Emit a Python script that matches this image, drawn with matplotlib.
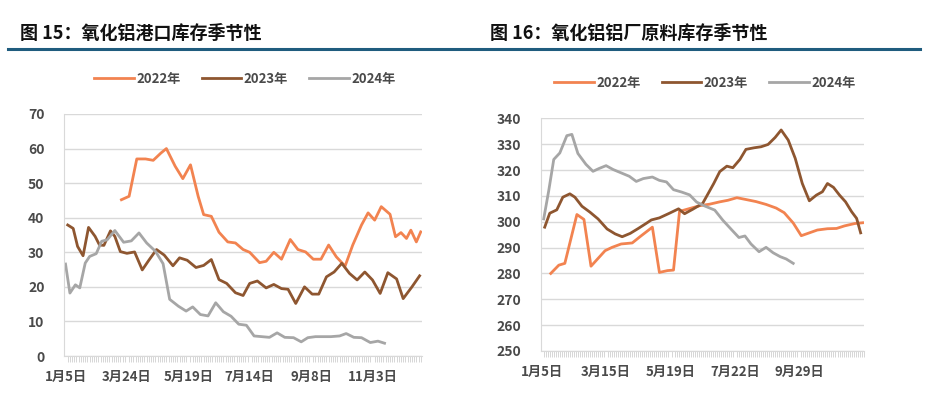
import numpy as np
import matplotlib
matplotlib.use('Agg')
import matplotlib.pyplot as plt
from matplotlib.lines import Line2D

plt.rcParams['font.family'] = ['Noto Sans CJK SC', 'DejaVu Sans']

# %% data -- left: 氧化铝港口库存 (万吨), right: 铝厂原料库存 (万吨)
# x = position along the category axis (label every 56 / 64 steps)
port_x22 = [51, 58, 65, 73, 80, 87, 92, 100, 107, 114, 121, 126, 133, 140, 148, 155, 162, 168, 177, 183,
            190, 197, 205, 212, 219, 226, 233, 240, 247, 255, 262, 270, 276, 282, 288, 296, 301, 306, 311, 315,
            320, 324]
port_y22 = [45.2, 46.2, 57.0, 57.0, 56.6, 58.7, 60.0, 54.9, 51.3, 55.3, 46.2, 40.9, 40.4, 35.8, 33.0, 32.7, 30.8, 30.0, 27.0, 27.4,
            30.0, 28.0, 33.7, 30.8, 30.1, 28.0, 28.0, 32.1, 28.7, 26.0, 32.1, 37.9, 41.4, 39.3, 43.2, 41.0, 34.5, 35.7, 34.0, 36.4,
            33.0, 35.9]
port_x23 = [2, 7, 11, 16, 21, 27, 31, 35, 41, 45, 50, 56, 63, 70, 76, 83, 90, 98, 104, 111,
            119, 126, 133, 140, 147, 155, 162, 168, 175, 183, 190, 197, 203, 210, 218, 225, 231, 238, 245, 252,
            259, 266, 273, 280, 287, 294, 302, 308, 316, 323]
port_y23 = [37.9, 36.9, 31.7, 29.0, 37.2, 34.6, 32.1, 32.0, 36.2, 34.6, 30.2, 29.7, 30.1, 24.9, 27.7, 30.8, 29.2, 26.1, 28.4, 27.7,
            25.6, 26.2, 27.9, 22.1, 21.0, 18.3, 17.5, 21.0, 21.7, 19.7, 20.7, 19.5, 19.3, 15.2, 20.0, 17.9, 17.9, 22.9, 24.3, 26.8,
            23.9, 22.0, 24.3, 22.0, 18.1, 24.1, 22.3, 16.6, 20.0, 23.2]
port_x24 = [0, 4, 9, 13, 18, 22, 28, 33, 38, 45, 53, 60, 67, 74, 82, 89, 95, 103, 110, 116,
            123, 130, 137, 144, 151, 158, 165, 172, 179, 186, 193, 200, 208, 215, 221, 228, 235, 242, 250, 256,
            263, 270, 278, 285, 291]
port_y24 = [26.6, 18.2, 20.6, 19.7, 26.9, 28.8, 29.6, 33.2, 33.6, 36.3, 32.9, 33.3, 35.6, 32.7, 30.3, 26.7, 16.4, 14.4, 13.0, 14.2,
            12.0, 11.6, 15.4, 12.8, 11.5, 9.2, 8.9, 5.8, 5.6, 5.4, 6.7, 5.4, 5.3, 4.1, 5.3, 5.6, 5.6, 5.6, 5.8, 6.5,
            5.4, 5.3, 3.9, 4.3, 3.7]
port_ticks = [0, 56, 112, 168, 224, 280]
port_labels = ['1月5日', '3月24日', '5月19日', '7月14日', '9月8日', '11月3日']

plant_x22 = [9, 17, 23, 35, 42, 49, 56, 63, 70, 79, 90, 98, 110, 117, 125, 131, 137, 146, 157, 167,
             177, 185, 194, 203, 213, 223, 233, 241, 250, 258, 266, 274, 284, 293, 301, 311, 319]
plant_y22 = [280.0, 283.2, 283.9, 302.8, 300.9, 282.8, 285.8, 288.8, 290.1, 291.4, 291.8, 294.3, 297.9, 280.4, 281.1, 281.3, 304.0, 305.0, 306.2, 306.8,
             307.7, 308.3, 309.3, 308.6, 307.8, 306.7, 305.3, 303.5, 299.5, 294.6, 295.7, 296.8, 297.3, 297.4, 298.4, 299.3, 299.6]
plant_x23 = [3, 8, 15, 21, 28, 33, 40, 48, 56, 65, 73, 80, 88, 96, 104, 109, 117, 127, 136, 142,
             150, 160, 165, 171, 177, 184, 190, 197, 203, 211, 218, 225, 232, 238, 245, 252, 259, 266, 273, 279,
             284, 290, 296, 302, 308, 313, 317]
plant_y23 = [297.9, 303.3, 304.6, 309.5, 310.8, 309.5, 306.0, 303.7, 301.1, 297.2, 295.3, 294.2, 295.5, 297.4, 299.4, 300.7, 301.5, 303.3, 305.0, 303.1,
             304.8, 307.1, 310.6, 314.8, 319.4, 321.5, 320.9, 324.1, 328.0, 328.6, 329.0, 329.9, 332.6, 335.5, 331.6, 324.5, 314.8, 308.1, 310.3, 311.6,
             314.8, 313.3, 310.3, 307.7, 303.9, 301.3, 295.7]
plant_x24 = [2, 7, 12, 18, 25, 30, 36, 44, 51, 57, 64, 71, 79, 87, 94, 101, 110, 117, 124, 131,
             139, 147, 154, 162, 172, 180, 189, 196, 202, 208, 216, 223, 230, 237, 243, 250]
plant_y24 = [301.1, 312.0, 324.1, 326.6, 333.3, 333.8, 326.4, 322.2, 319.5, 320.6, 321.7, 320.2, 318.9, 317.6, 315.6, 316.7, 317.3, 316.0, 315.4, 312.4,
             311.5, 310.4, 307.6, 306.1, 304.5, 300.6, 296.8, 293.9, 294.5, 291.4, 288.4, 290.1, 288.0, 286.5, 285.6, 283.9]
plant_ticks = [0, 64, 128, 192, 256]
plant_labels = ['1月5日', '3月15日', '5月19日', '7月22日', '9月29日']

years = ['2022年', '2023年', '2024年']
colors = ['#F28350', '#8E5630', '#A6A6A6']
txt = '#4A4A4A'


def style(ax, xlim, ylim, ystep, ticks, labels):
    ax.set_xlim(*xlim)
    ax.set_ylim(*ylim)
    ax.set_yticks(np.arange(ylim[0], ylim[1] + 1, ystep))
    ax.set_xticks(ticks)
    ax.set_xticklabels(labels)
    ax.xaxis.set_minor_locator(plt.MultipleLocator(2))
    ax.grid(axis='y', color='#D9D9D9', linewidth=1.0)
    ax.set_axisbelow(True)
    for s in ['top', 'right']:
        ax.spines[s].set_visible(False)
    ax.spines['left'].set_color('#D9D9D9')
    ax.spines['bottom'].set_color('#D9D9D9')
    ax.tick_params(axis='y', length=0, pad=14, labelsize=10, labelcolor=txt)
    ax.tick_params(axis='x', which='major', length=0, pad=10, labelsize=9.5, labelcolor=txt)
    ax.tick_params(axis='x', which='minor', length=4, width=0.6, color='#D0D0D0', direction='out')
    for lab in ax.get_xticklabels() + ax.get_yticklabels():
        lab.set_fontweight('bold')


fig = plt.figure(figsize=(9.3, 3.95), dpi=100)

ax1 = fig.add_axes([0.0688, 0.0987, 0.385, 0.6127])
for xs, ys, c, n in zip([port_x22, port_x23, port_x24], [port_y22, port_y23, port_y24], colors, years):
    ax1.plot(xs, ys, color=c, linewidth=2.0, label=n)
style(ax1, (-1.4, 325.2), (0, 70), 10, port_ticks, port_labels)
ax1.legend(loc='center', bbox_to_anchor=(245 / 930, 1 - 79 / 395), bbox_transform=fig.transFigure,
           ncol=3, frameon=False, handlelength=3.0, handletextpad=0.2, columnspacing=1.6,
           prop={'weight': 'bold', 'size': 9.5}, labelcolor=txt)

ax2 = fig.add_axes([0.5817, 0.1114, 0.3473, 0.589])
for xs, ys, c, n in zip([plant_x22, plant_x23, plant_x24], [plant_y22, plant_y23, plant_y24], colors, years):
    ax2.plot(xs, ys, color=c, linewidth=2.0, label=n)
style(ax2, (-0.7, 320.3), (250, 340), 10, plant_ticks, plant_labels)
ax2.legend(loc='center', bbox_to_anchor=(705 / 930, 1 - 83 / 395), bbox_transform=fig.transFigure,
           ncol=3, frameon=False, handlelength=3.0, handletextpad=0.2, columnspacing=1.6,
           prop={'weight': 'bold', 'size': 9.5}, labelcolor=txt)

# headers
fig.text(20 / 930, 1 - 33 / 395, '图 15：氧化铝港口库存季节性', fontsize=13, fontweight='heavy',
         color='#111111', va='center', ha='left')
fig.text(490 / 930, 1 - 33 / 395, '图 16：氧化铝铝厂原料库存季节性', fontsize=13, fontweight='heavy',
         color='#111111', va='center', ha='left')
fig.add_artist(Line2D([8 / 930, 920 / 930], [1 - 49 / 395, 1 - 49 / 395], color='#1F5C7E', linewidth=2.2))

plt.savefig('out.png', dpi=100)
